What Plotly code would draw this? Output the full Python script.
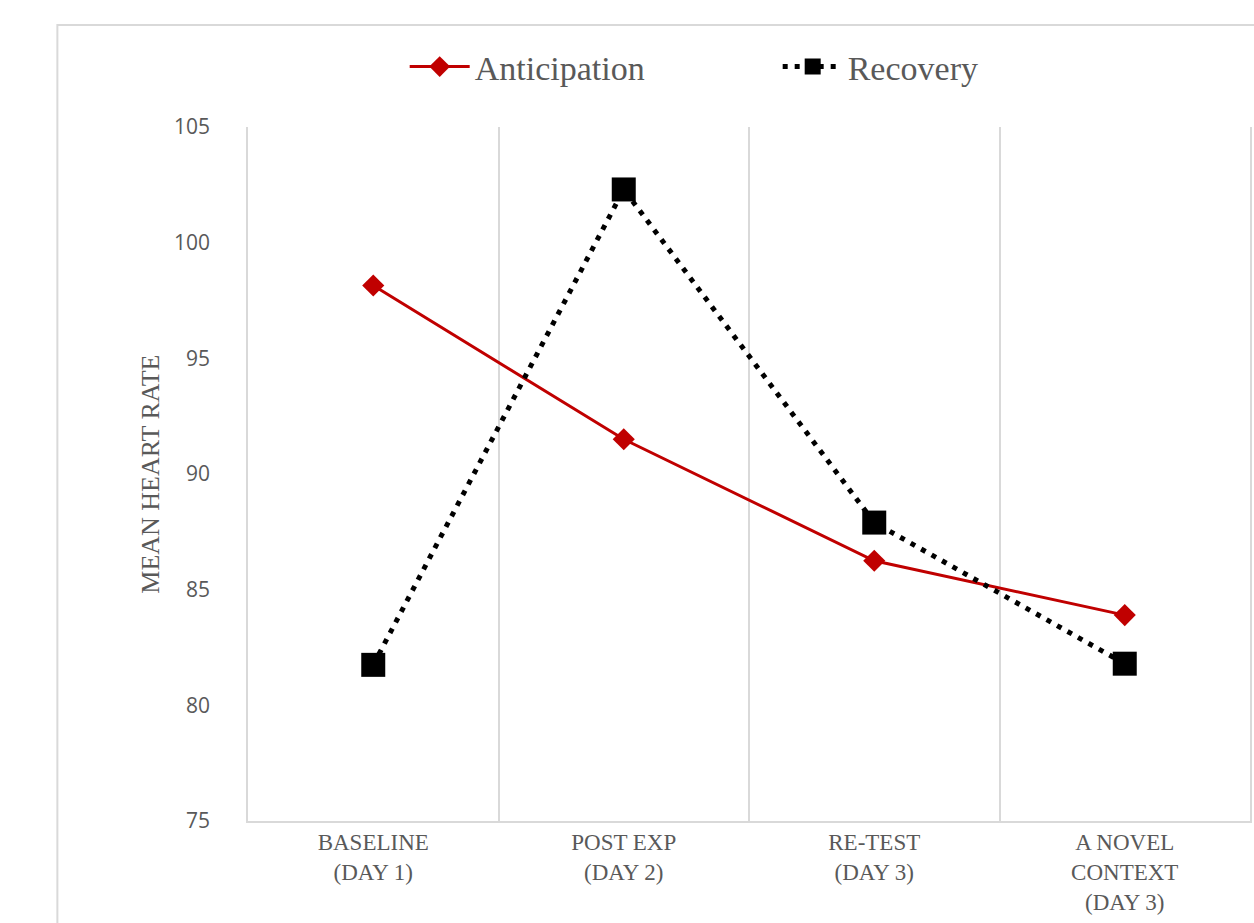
import plotly.graph_objects as go

categories = ["BASELINE<br>(DAY 1)", "POST EXP<br>(DAY 2)", "RE-TEST<br>(DAY 3)", "A NOVEL<br>CONTEXT<br>(DAY 3)"]
anticipation = [98.15, 91.5, 86.25, 83.9]
recovery = [81.75, 102.3, 87.9, 81.8]
y_ticks = [75, 80, 85, 90, 95, 100, 105]

W, H = 1254, 923
L, R, T, B = 248, 2, 127, 102
pw, ph = W - L - R, H - T - B

def px_x(x):
    return (x - L) / pw

def px_y(y):
    return (H - B - y) / ph

fig = go.Figure()
fig.add_trace(go.Scatter(
    x=categories, y=anticipation, name="Anticipation", mode="lines+markers",
    line=dict(color="#c00000", width=3),
    marker=dict(symbol="diamond", size=17, color="#c00000"),
))
fig.add_trace(go.Scatter(
    x=categories, y=recovery, name="Recovery", mode="lines+markers",
    line=dict(color="#000000", width=5, dash="5px,7px"),
    marker=dict(symbol="square", size=24, color="#000000"),
))

fig.add_shape(type="rect", xref="paper", yref="paper",
              x0=px_x(57), x1=px_x(1300), y0=px_y(960), y1=px_y(25),
              line=dict(color="#d9d9d9", width=2), fillcolor="rgba(0,0,0,0)", layer="below")

fig.add_annotation(text="MEAN HEART RATE", xref="paper", yref="paper",
                   x=px_x(133), y=0.5, textangle=-90, showarrow=False,
                   font=dict(family="Liberation Serif", size=26, color="#595959"))

fig.update_layout(
    width=W, height=H,
    margin=dict(l=L, r=R, t=T, b=B),
    paper_bgcolor="white", plot_bgcolor="white",
    showlegend=True,
    legend=dict(orientation="h", x=px_x(405), xanchor="left", y=px_y(67), yanchor="middle",
                font=dict(family="Liberation Serif", size=34, color="#595959"),
                entrywidth=298, entrywidthmode="pixels",
                itemwidth=60, bgcolor="rgba(0,0,0,0)"),
    xaxis=dict(type="category", tickson="boundaries", showgrid=True, gridcolor="#d9d9d9", gridwidth=1.5,
               showline=True, linecolor="#d9d9d9", linewidth=1.5, ticks="", range=[-0.5, 3.5],
               tickfont=dict(family="Liberation Serif", size=23, color="#595959"), zeroline=False),
    yaxis=dict(range=[75, 105], tickvals=y_ticks, showgrid=False, zeroline=False,
               showline=True, linecolor="#d9d9d9", linewidth=1.5, mirror=True,
               ticks="", ticklabelstandoff=32,
               tickfont=dict(family="Open Sans", size=21, color="#595959")),
)

fig.write_html("out.html")
